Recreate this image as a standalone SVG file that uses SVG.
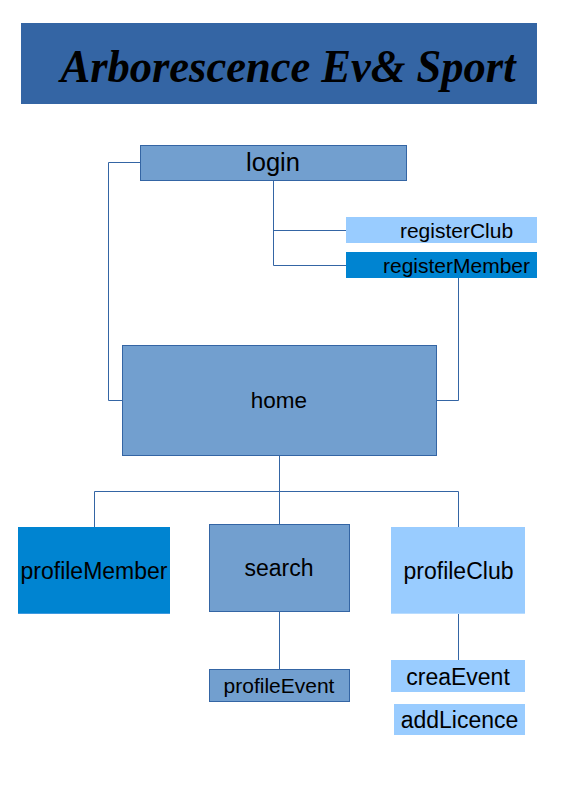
<svg xmlns="http://www.w3.org/2000/svg" width="567" height="802" viewBox="0 0 567 802">
<style>
text{font-family:"Liberation Sans",Arial,sans-serif;fill:#000;text-anchor:middle}
.mid{fill:#729fcf;stroke:#3465a4;stroke-width:1}
.light{fill:#99ccff}
.dark{fill:#0084d1}
.conn{fill:none;stroke:#3465a4;stroke-width:1}
</style>
<rect width="567" height="802" fill="#fff"/>
<g id="title">
<rect x="21" y="23" width="516" height="81" fill="#3465a4"/>
<text x="288" y="82" font-style="italic" font-weight="bold" font-size="46" textLength="455" lengthAdjust="spacingAndGlyphs" style="font-family:'Liberation Serif',serif">Arborescence Ev&amp; Sport</text>
</g>
<g id="connectors">
<polyline class="conn" points="140.5,162.5 108.5,162.5 108.5,400.5 122.5,400.5"/>
<polyline class="conn" points="273.5,180 273.5,265.5 346,265.5"/>
<line class="conn" x1="273.5" y1="230.5" x2="346" y2="230.5"/>
<polyline class="conn" points="458.5,278 458.5,400.5 437,400.5"/>
<line class="conn" x1="279.5" y1="455" x2="279.5" y2="524"/>
<polyline class="conn" points="94.5,527 94.5,491.5 458.5,491.5 458.5,527"/>
<line class="conn" x1="279.5" y1="611" x2="279.5" y2="669"/>
<line class="conn" x1="458.5" y1="614" x2="458.5" y2="660"/>
</g>
<g id="login">
<rect class="mid" x="140.5" y="145.5" width="266" height="35"/>
<text x="273" y="171" font-size="25.5">login</text>
</g>
<g id="registerClub">
<rect class="light" x="346" y="217" width="191" height="26"/>
<text x="456.5" y="237.5" font-size="21">registerClub</text>
</g>
<g id="registerMember">
<rect class="dark" x="346" y="252" width="191" height="26"/>
<text x="456.5" y="272.5" font-size="21">registerMember</text>
</g>
<g id="home">
<rect class="mid" x="122.5" y="345.5" width="314" height="110"/>
<text x="279" y="407.5" font-size="22.5">home</text>
</g>
<g id="profileMember">
<rect class="dark" x="18" y="527" width="152" height="87"/>
<line x1="18" y1="613.5" x2="170" y2="613.5" stroke="#3e9ae0" stroke-width="1"/>
<text x="94" y="579" font-size="23">profileMember</text>
</g>
<g id="search">
<rect class="mid" x="209.5" y="524.5" width="140" height="87"/>
<text x="279" y="575.5" font-size="23">search</text>
</g>
<g id="profileClub">
<rect class="light" x="391" y="527" width="134" height="87"/>
<line x1="391" y1="613.5" x2="525" y2="613.5" stroke="#b8dcff" stroke-width="1"/>
<text x="458.5" y="579" font-size="23">profileClub</text>
</g>
<g id="profileEvent">
<rect class="mid" x="209.5" y="669.5" width="140" height="32"/>
<text x="279" y="692.5" font-size="21">profileEvent</text>
</g>
<g id="creaEvent">
<rect class="light" x="391" y="660" width="134" height="32"/>
<text x="458" y="684.5" font-size="23">creaEvent</text>
</g>
<g id="addLicence">
<rect class="light" x="394" y="704" width="131" height="31"/>
<text x="459.5" y="728" font-size="23">addLicence</text>
</g>
</svg>
